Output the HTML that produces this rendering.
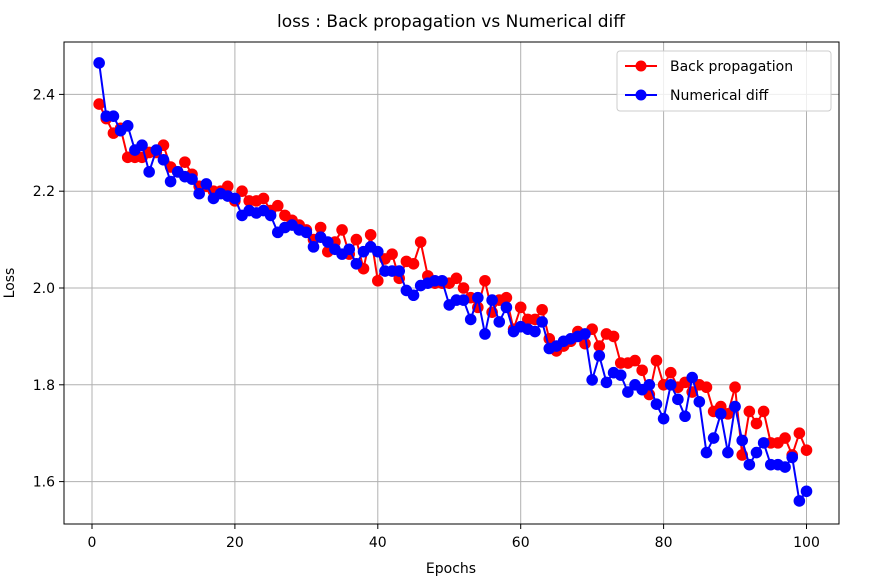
<!DOCTYPE html>
<html><head><meta charset="utf-8"><style>
body{margin:0;background:#fff;}
svg{display:block;font-family:"DejaVu Sans","Liberation Sans",sans-serif;}
</style></head><body>
<svg id="chart" width="881" height="588" xmlns="http://www.w3.org/2000/svg">
<rect width="881" height="588" fill="#fff"/>
<text x="451" y="27" font-size="17" text-anchor="middle" fill="#000">loss : Back propagation vs Numerical diff</text>
<text x="451" y="573" font-size="14" text-anchor="middle">Epochs</text>
<text x="0" y="0" font-size="14" text-anchor="middle" transform="translate(14,283) rotate(-90)">Loss</text>
<g id="grid"></g><g id="series"></g>
<rect x="64" y="42" width="775" height="482" fill="none" stroke="#000" stroke-width="1"/>
<g id="ticks"></g>
<g>
<rect x="617" y="51" width="214" height="60" rx="3" fill="#fff" fill-opacity="0.8" stroke="#ccc"/>
<line x1="625" y1="66" x2="657" y2="66" stroke="#f00" stroke-width="2"/><circle cx="641" cy="66" r="5.5" fill="#f00"/>
<text x="670" y="71" font-size="14">Back propagation</text>
<line x1="625" y1="95" x2="657" y2="95" stroke="#00f" stroke-width="2"/><circle cx="641" cy="95" r="5.5" fill="#00f"/>
<text x="670" y="100" font-size="14">Numerical diff</text>
</g>
</svg>
<script>
const xTicks=[0,20,40,60,80,100];
const yTicks=[1.6,1.8,2.0,2.2,2.4];
const backProp=[2.38,2.35,2.32,2.33,2.27,2.27,2.27,2.28,2.28,2.295,2.25,2.24,2.26,2.235,2.21,2.21,2.20,2.20,2.21,2.18,2.20,2.18,2.18,2.185,2.16,2.17,2.15,2.14,2.13,2.12,2.10,2.125,2.075,2.095,2.12,2.07,2.10,2.04,2.11,2.015,2.06,2.07,2.02,2.055,2.05,2.095,2.025,2.01,2.01,2.01,2.02,2.00,1.98,1.96,2.015,1.95,1.975,1.98,1.915,1.96,1.935,1.935,1.955,1.895,1.87,1.88,1.89,1.91,1.885,1.915,1.88,1.905,1.90,1.845,1.845,1.85,1.83,1.78,1.85,1.80,1.825,1.795,1.805,1.785,1.80,1.795,1.745,1.755,1.74,1.795,1.655,1.745,1.72,1.745,1.68,1.68,1.69,1.655,1.70,1.665];
const numDiff=[2.465,2.355,2.355,2.325,2.335,2.285,2.295,2.24,2.285,2.265,2.22,2.24,2.23,2.225,2.195,2.215,2.185,2.195,2.19,2.185,2.15,2.16,2.155,2.16,2.15,2.115,2.125,2.13,2.12,2.115,2.085,2.105,2.095,2.08,2.07,2.08,2.05,2.075,2.085,2.075,2.035,2.035,2.035,1.995,1.985,2.005,2.01,2.015,2.015,1.965,1.975,1.975,1.935,1.98,1.905,1.975,1.93,1.96,1.91,1.92,1.915,1.91,1.93,1.875,1.88,1.89,1.895,1.9,1.905,1.81,1.86,1.805,1.825,1.82,1.785,1.80,1.79,1.80,1.76,1.73,1.80,1.77,1.735,1.815,1.765,1.66,1.69,1.74,1.66,1.755,1.685,1.635,1.66,1.68,1.635,1.635,1.63,1.65,1.56,1.58];
const NS="http://www.w3.org/2000/svg";
const X=v=>92+v*7.145;
const Y=v=>288-(v-2.0)*484;
function mk(t,a,p){const e=document.createElementNS(NS,t);for(const k in a)e.setAttribute(k,a[k]);p.appendChild(e);return e;}
const grid=document.getElementById('grid'),ticks=document.getElementById('ticks'),ser=document.getElementById('series');
xTicks.forEach(t=>{
  const l=mk('line',{x1:X(t),x2:X(t),y1:42,y2:524,stroke:'#b0b0b0','stroke-width':1},grid);
  
  
  mk('line',{x1:X(t),x2:X(t),y1:524,y2:529,stroke:'#000'},ticks);
  const tx=mk('text',{x:X(t),y:547,'font-size':14,'text-anchor':'middle'},ticks);
  tx.textContent=t;
  
  
});
yTicks.forEach(t=>{
  const l=mk('line',{x1:64,x2:839,y1:Y(t),y2:Y(t),stroke:'#b0b0b0','stroke-width':1},grid);
  
  
  mk('line',{x1:59,x2:64,y1:Y(t),y2:Y(t),stroke:'#000'},ticks);
  const tx=mk('text',{x:55,y:Y(t)+5,'font-size':14,'text-anchor':'end'},ticks);
  tx.textContent=t.toFixed(1);
  
  
});
function draw(data,color,name){
  const g=mk('g',{},ser);
  
  
  const pts=data.map((v,i)=>X(i+1)+','+Y(v)).join(' ');
  const pl=mk('polyline',{points:pts,fill:'none',stroke:color,'stroke-width':2},g);
  
  
  data.forEach((v,i)=>{
    const c=mk('circle',{cx:X(i+1),cy:Y(v),r:5.8,fill:color},g);
    
    
  });
}
draw(backProp,'#f00','backprop');
draw(numDiff,'#00f','numerical-diff');
</script>
</body></html>
